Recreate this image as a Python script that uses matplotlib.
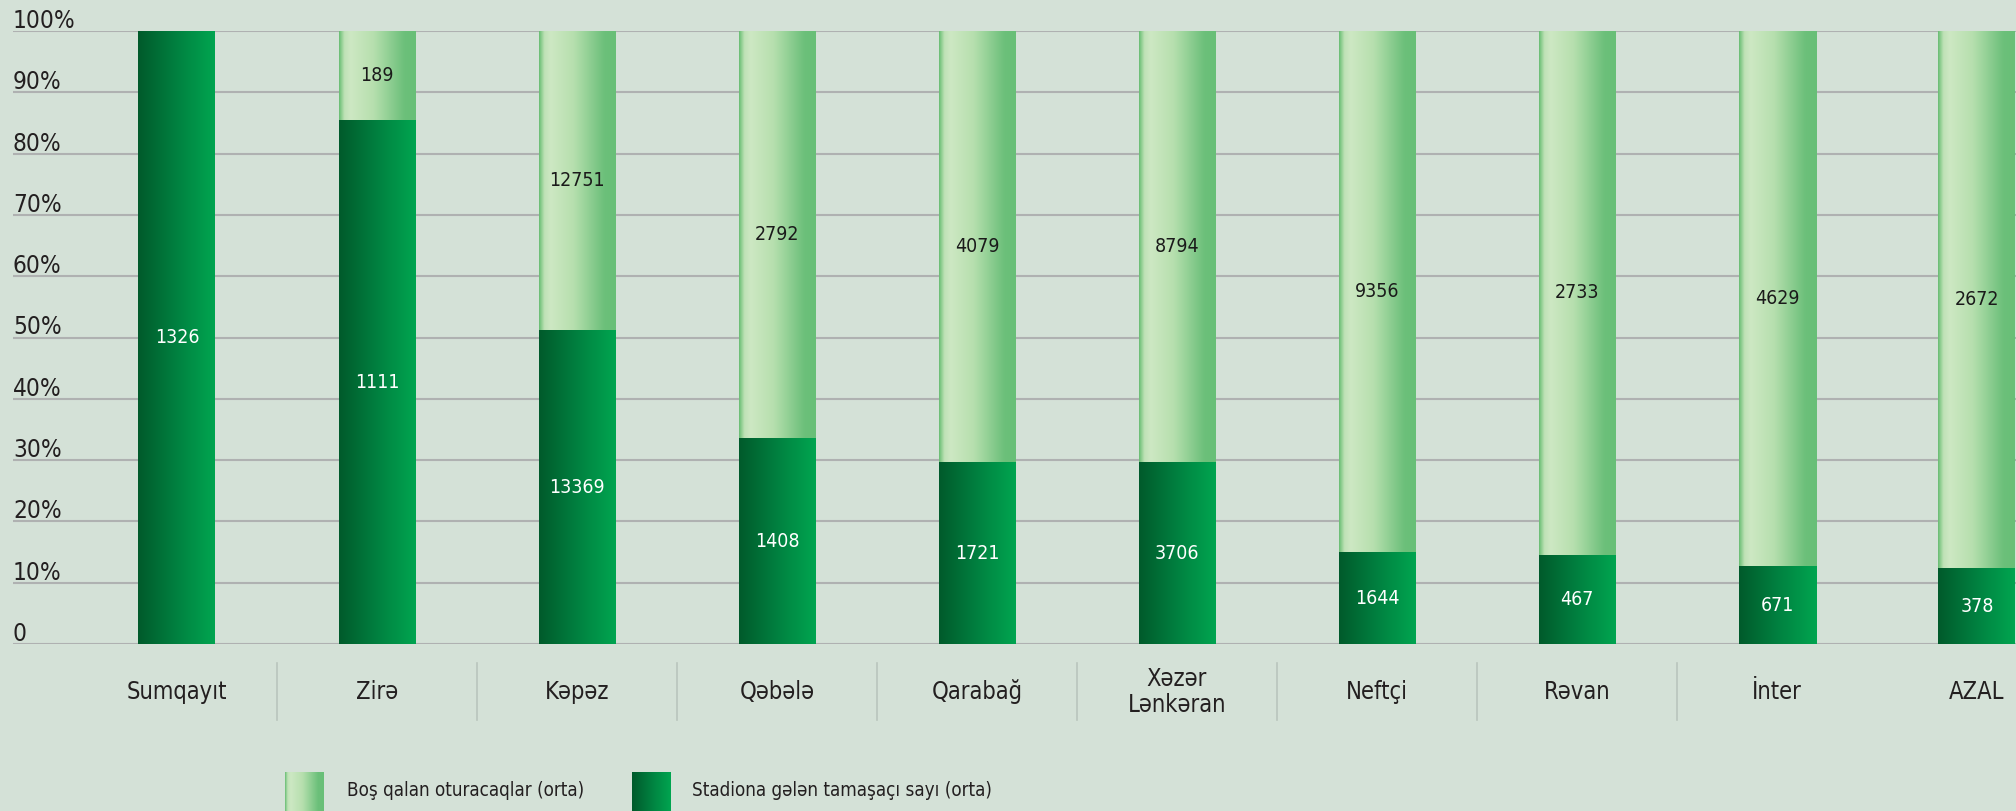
import numpy as np
import matplotlib.pyplot as plt
from matplotlib.colors import LinearSegmentedColormap

plt.rcParams['font.family'] = ['DejaVu Sans']
plt.rcParams['font.stretch'] = 'condensed'

# orta tamaşaçı sayı və boş qalan oturacaqlar
teams = ['Sumqayıt', 'Zirə', 'Kəpəz', 'Qəbələ', 'Qarabağ', 'Xəzər\nLənkəran',
         'Neftçi', 'Rəvan', 'İnter', 'AZAL']
attendance = [1326, 1111, 13369, 1408, 1721, 3706, 1644, 467, 671, 378]
empty_seats = [0, 189, 12751, 2792, 4079, 8794, 9356, 2733, 4629, 2672]

ytick_values = [0, 10, 20, 30, 40, 50, 60, 70, 80, 90, 100]
ytick_labels = ['0', '10%', '20%', '30%', '40%', '50%', '60%', '70%', '80%', '90%', '100%']
legend_labels = ['Boş qalan oturacaqlar (orta)', 'Stadiona gələn tamaşaçı sayı (orta)']

bg = '#d4e1d7'
dark_cmap = LinearSegmentedColormap.from_list(
    'dark', [(0, '#005a2b'), (0.5, '#008140'), (1, '#00a550')])
light_cmap = LinearSegmentedColormap.from_list(
    'light', [(0, '#68bd73'), (0.07, '#bfe2b6'), (0.15, '#cde8c3'),
              (0.45, '#b6dfae'), (0.85, '#6cc07a'), (1, '#68bf77')])
grad = np.linspace(0, 1, 256).reshape(1, -1)

att = np.array(attendance, dtype=float)
emp = np.array(empty_seats, dtype=float)
total = att + emp
att_pct = att / total * 100
emp_pct = emp / total * 100
x = np.arange(len(teams))

W, H = 2016, 811
fig = plt.figure(figsize=(W / 100, H / 100), dpi=100, facecolor=bg)
ax = fig.add_axes([13 / W, 167 / H, (W - 13) / W, 613 / H])
ax.set_facecolor(bg)

width = 0.385
dark_bars = ax.bar(x, att_pct, width, zorder=2)
light_bars = ax.bar(x, emp_pct, width, bottom=att_pct, zorder=2)


def paint(bars, cmap):
    for b in bars:
        x0, y0, w, h = b.get_x(), b.get_y(), b.get_width(), b.get_height()
        b.set_facecolor('none')
        b.set_edgecolor('none')
        if h <= 0:
            continue
        im = ax.imshow(grad, cmap=cmap, aspect='auto', interpolation='bilinear',
                       extent=(x0, x0 + w, y0, y0 + h), zorder=2)
        im.set_clip_path(b)


paint(dark_bars, dark_cmap)
paint(light_bars, light_cmap)

# value labels
for i in range(len(teams)):
    ax.text(x[i], att_pct[i] / 2, str(attendance[i]), ha='center', va='center',
            color='white', fontsize=14, zorder=3)
    if empty_seats[i] > 0:
        ax.text(x[i], att_pct[i] + emp_pct[i] / 2, str(empty_seats[i]), ha='center',
                va='center', color='#1a1a1a', fontsize=14, zorder=3)

ax.set_xlim(-0.82, 9.195)
ax.set_ylim(0, 100)
ax.set_yticks(ytick_values)
ax.yaxis.grid(True, color='#afb1b1', linewidth=1.5)
ax.set_axisbelow(True)
ax.tick_params(left=False, bottom=False, labelleft=False, labelbottom=False)
for s in ax.spines.values():
    s.set_visible(False)

ytrans = ax.get_yaxis_transform()
for v, lab in zip(ytick_values, ytick_labels):
    ax.annotate(lab, xy=(0, v), xycoords=ytrans, xytext=(0, 3), textcoords='offset pixels',
                ha='left', va='baseline', fontsize=17.5, color='#231f20', annotation_clip=False)

xtrans = ax.get_xaxis_transform()
for i, t in enumerate(teams):
    ax.annotate(t, xy=(x[i], 0), xycoords=xtrans, xytext=(0, -48), textcoords='offset pixels',
                ha='center', va='center', fontsize=17, color='#231f20', linespacing=1.15,
                annotation_clip=False)
for i in range(len(teams) - 2):
    ax.plot([x[i] + 0.5, x[i] + 0.5], [-0.031, -0.124], transform=xtrans,
            color='#b9c5bd', linewidth=1.2, clip_on=False)

# legend
for k, (cmap, lx, tx) in enumerate([(light_cmap, 285, 347), (dark_cmap, 632, 692)]):
    sw = fig.add_axes([lx / W, 0, 39 / W, 39 / H])
    sw.imshow(grad, cmap=cmap, aspect='auto', interpolation='bilinear')
    sw.axis('off')
    fig.text(tx / W, 1 - 791 / H, legend_labels[k], ha='left', va='center',
             fontsize=13.5, color='#231f20')

fig.savefig('out.png', dpi=100, facecolor=bg)
